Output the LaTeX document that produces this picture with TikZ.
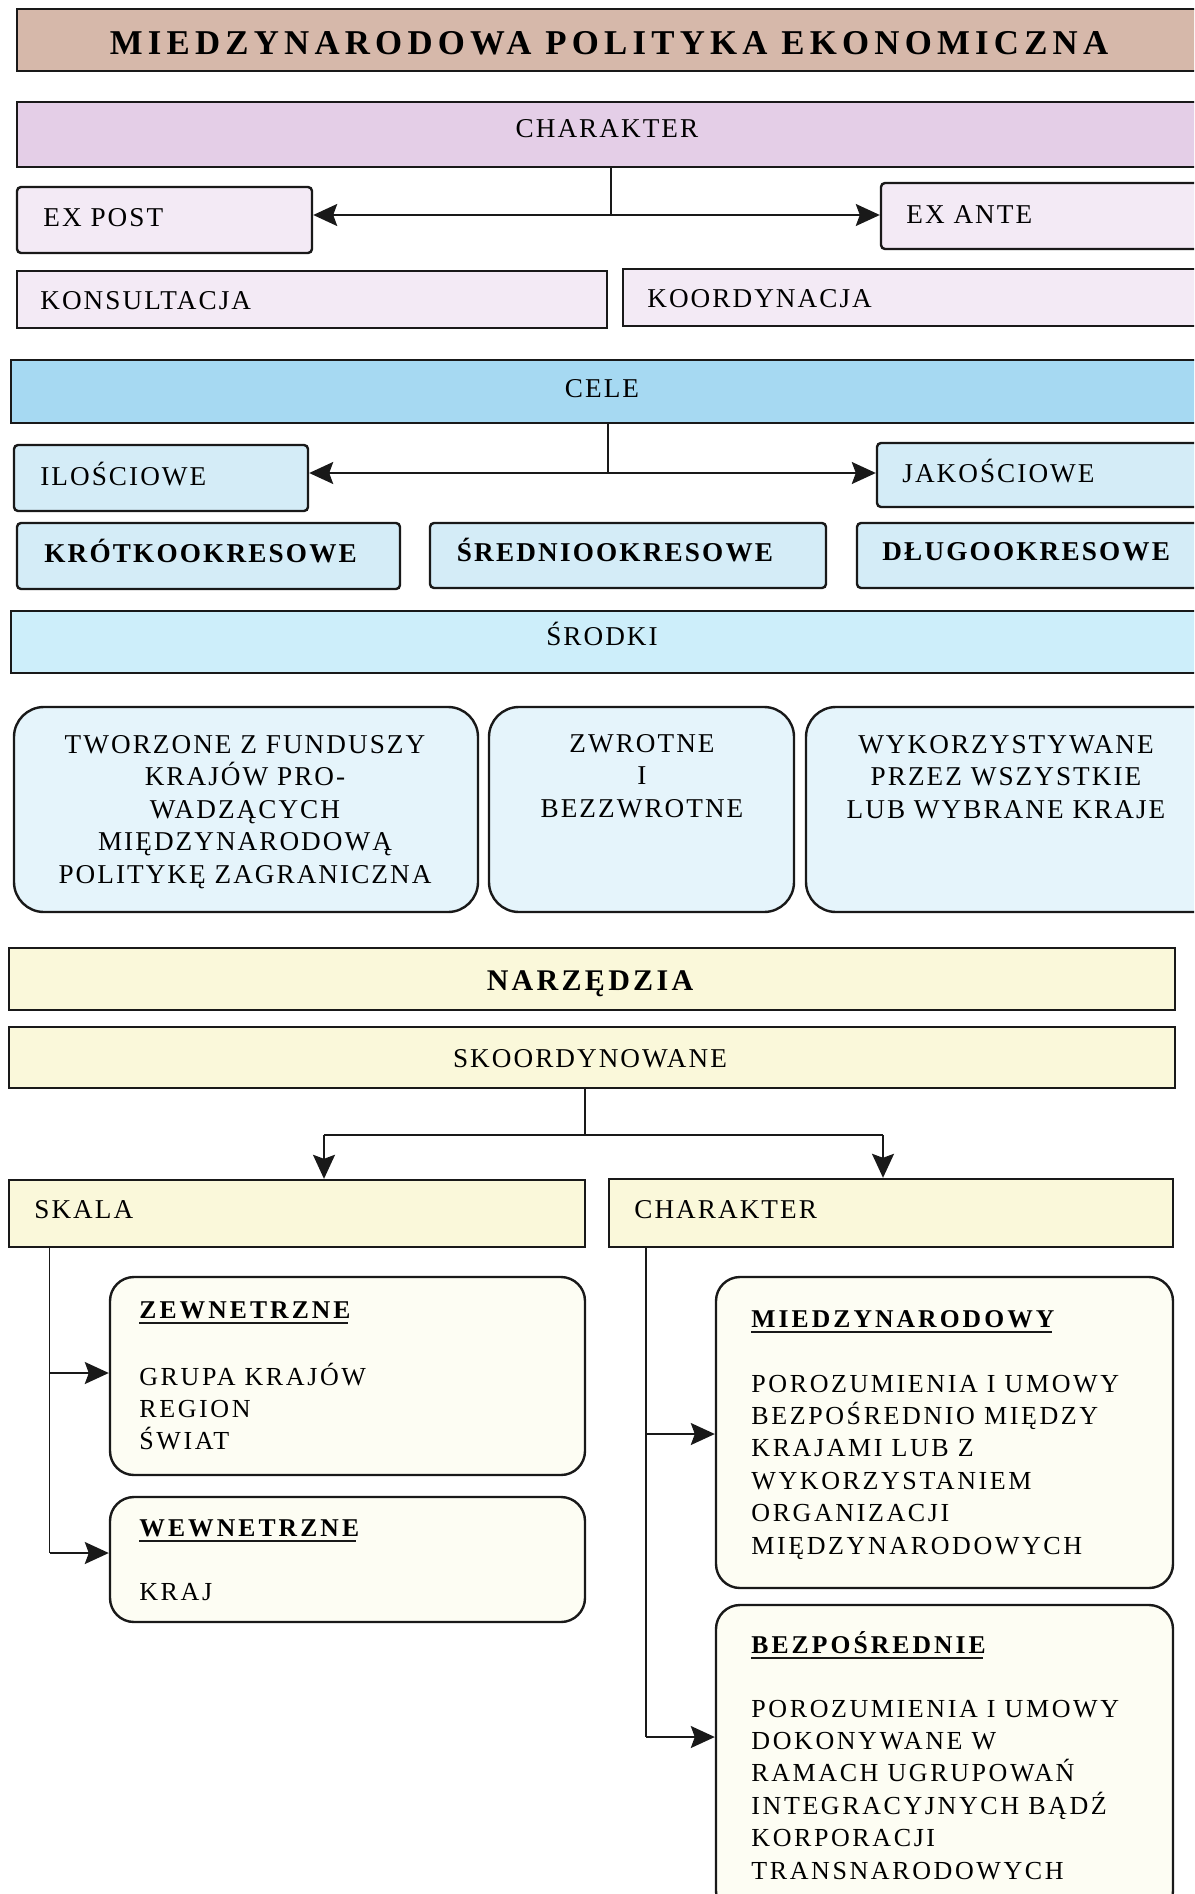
\documentclass[tikz,border=0pt]{standalone}
\usepackage{fontspec}
\setmainfont{Liberation Serif}
\newfontfamily\lsA[LetterSpace=7.5]{Liberation Serif}
\newfontfamily\lsB[LetterSpace=8]{Liberation Serif}
\newfontfamily\lsF[LetterSpace=10]{Liberation Serif}
\newfontfamily\lsC[LetterSpace=12]{Liberation Serif}
\newfontfamily\lsD[LetterSpace=15]{Liberation Serif}
\newfontfamily\lsE[LetterSpace=11]{Liberation Serif}
\newcommand\fUp{\lsA\fontsize{13.6pt}{16.25pt}\selectfont}
\newcommand\fLow{\lsF\fontsize{13pt}{16.2pt}\selectfont}
\newcommand\fBold{\lsB\bfseries\fontsize{13.6pt}{16.25pt}\selectfont}
\newcommand\fHead{\lsC\bfseries\fontsize{12.8pt}{16pt}\selectfont}
\newcommand\fTitle{\lsD\bfseries\fontsize{17.4pt}{20pt}\selectfont}
\newcommand\fNarz{\lsE\bfseries\fontsize{15pt}{18pt}\selectfont}
\usetikzlibrary{fit,arrows.meta}
\definecolor{cTitle}{RGB}{214,184,170}
\definecolor{cCharTop}{RGB}{228,206,231}
\definecolor{cCharSub}{RGB}{243,234,245}
\definecolor{cCele}{RGB}{166,217,242}
\definecolor{cCeleSub}{RGB}{212,236,247}
\definecolor{cSrodki}{RGB}{205,238,250}
\definecolor{cSrodSub}{RGB}{229,244,251}
\definecolor{cNarz}{RGB}{250,248,218}
\definecolor{cNarzSub}{RGB}{253,253,243}
\begin{document}
\begin{tikzpicture}[x=0.5pt,y=-0.5pt,
  box/.style={draw=black!90, line width=1.2pt, inner sep=0pt},
  rbox/.style={box, rounded corners=2pt},
  bigr/.style={box, rounded corners=15pt},
  midr/.style={box, rounded corners=12pt},
  tc/.style={inner sep=0pt, anchor=base},
  tl/.style={inner sep=0pt, anchor=base west},
  conn/.style={line width=0.9pt, draw=black!90},
  arr/.style={conn, -{Stealth[length=12pt,width=11pt,inset=2pt]}},
  uline/.style={line width=1pt, draw=black!90}]
\clip (0,0) rectangle (1194,1894);
\fill[white] (0,0) rectangle (1194,1894);

% ---------- title ----------
\node[box, fill=cTitle, fit={(17,9)(1215,71)}] (title) {};
\node[tc, font=\fTitle] (titleT) at (609,55) {MIEDZYNARODOWA POLITYKA EKONOMICZNA};

% ---------- charakter ----------
\node[box, fill=cCharTop, fit={(17,102)(1215,167)}] (charT) {};
\node[tc, font=\fUp] (charTT) at (607,138) {CHARAKTER};
\node[rbox, fill=cCharSub, fit={(17,187)(312,253)}] (expost) {};
\node[tl, font=\fUp] (expostT) at (43,227) {EX POST};
\node[rbox, fill=cCharSub, fit={(881,183)(1215,249)}] (exante) {};
\node[tl, font=\fUp] (exanteT) at (906,224) {EX ANTE};
\node[box, fill=cCharSub, fit={(17,271)(607,328)}] (kons) {};
\node[tl, font=\fUp] (konsT) at (40,309) {KONSULTACJA};
\node[box, fill=cCharSub, fit={(623,269)(1215,326)}] (koord) {};
\node[tl, font=\fUp] (koordT) at (647,307) {KOORDYNACJA};

\coordinate (j1) at (611,215);
\draw[conn] (charT.south -| j1) -- (j1);
\draw[arr] (j1) -- (j1 -| expost.east);
\draw[arr] (j1) -- (j1 -| exante.west);

% ---------- cele ----------
\node[box, fill=cCele, fit={(11,360)(1215,423)}] (cele) {};
\node[tc, font=\fUp] (celeT) at (602,397) {CELE};
\node[rbox, fill=cCeleSub, fit={(14,445)(308,511)}] (ilo) {};
\node[tl, font=\fUp] (iloT) at (40,485) {ILOŚCIOWE};
\node[rbox, fill=cCeleSub, fit={(877,443)(1215,507)}] (jak) {};
\node[tl, font=\fUp] (jakT) at (902,482) {JAKOŚCIOWE};
\node[rbox, fill=cCeleSub, fit={(17,523)(400,589)}] (krot) {};
\node[tl, font=\fBold] (krotT) at (44,562) {KRÓTKOOKRESOWE};
\node[rbox, fill=cCeleSub, fit={(430,523)(826,588)}] (sred) {};
\node[tc, font=\fBold] (sredT) at (615,561) {ŚREDNIOOKRESOWE};
\node[rbox, fill=cCeleSub, fit={(857,523)(1215,588)}] (dlug) {};
\node[tl, font=\fBold] (dlugT) at (882,560) {DŁUGOOKRESOWE};

\coordinate (j2) at (608,473);
\draw[conn] (cele.south -| j2) -- (j2);
\draw[arr] (j2) -- (j2 -| ilo.east);
\draw[arr] (j2) -- (j2 -| jak.west);

% ---------- srodki ----------
\node[box, fill=cSrodki, fit={(11,611)(1215,673)}] (srod) {};
\node[tc, font=\fUp] (srodT) at (602,645) {ŚRODKI};
\node[bigr, fill=cSrodSub, fit={(14,707)(478,912)}] (s1) {};
\node[tc, font=\fUp] (s1T) at (245,753) {\parbox[t]{225pt}{\centering TWORZONE Z FUNDUSZY\\ KRAJÓW PRO-\\ WADZĄCYCH\\ MIĘDZYNARODOWĄ\\ POLITYKĘ ZAGRANICZNA}};
\node[bigr, fill=cSrodSub, fit={(489,707)(794,912)}] (s2) {};
\node[tc, font=\fUp] (s2T) at (642,752) {\parbox[t]{140pt}{\centering ZWROTNE\\ I\\ BEZZWROTNE}};
\node[bigr, fill=cSrodSub, fit={(806,707)(1225,912)}] (s3) {};
\node[tc, font=\fUp] (s3T) at (1006,753) {\parbox[t]{195pt}{\centering WYKORZYSTYWANE\\ PRZEZ WSZYSTKIE\\ LUB WYBRANE KRAJE}};

% ---------- narzedzia ----------
\node[box, fill=cNarz, fit={(9,948)(1175,1010)}] (narz) {};
\node[tc, font=\fNarz] (narzT) at (590,990) {NARZĘDZIA};
\node[box, fill=cNarz, fit={(9,1027)(1175,1088)}] (skoord) {};
\node[tc, font=\fUp] (skoordT) at (590,1067) {SKOORDYNOWANE};
\node[box, fill=cNarz, fit={(9,1180)(585,1247)}] (skala) {};
\node[tl, font=\fUp] (skalaT) at (34,1218) {SKALA};
\node[box, fill=cNarz, fit={(609,1179)(1173,1247)}] (char2) {};
\node[tl, font=\fUp] (char2T) at (634,1218) {CHARAKTER};

\coordinate (j3) at (585,1135);
\coordinate (j3l) at (324,1135);
\coordinate (j3r) at (883,1135);
\draw[conn] (skoord.south -| j3) -- (j3);
\draw[conn] (j3l) -- (j3r);
\draw[arr] (j3l) -- (j3l |- skala.north);
\draw[arr] (j3r) -- (j3r |- char2.north);

% skala branch
\node[midr, fill=cNarzSub, fit={(110,1277)(585,1475)}] (zew) {};
\node[tl, font=\fHead] (zewH) at (139,1318) {ZEWNETRZNE};
\draw[uline] ([yshift=-2.6pt]zewH.base west) -- ([yshift=-2.6pt,xshift=-1.5pt]zewH.base east);
\node[tl, font=\fLow] (zewT) at (139,1385) {\parbox[t]{200pt}{\raggedright GRUPA KRAJÓW\\ REGION\\ ŚWIAT}};
\node[midr, fill=cNarzSub, fit={(110,1497)(585,1622)}] (wew) {};
\node[tl, font=\fHead] (wewH) at (139,1536) {WEWNETRZNE};
\draw[uline] ([yshift=-2.6pt]wewH.base west) -- ([yshift=-2.6pt,xshift=-1.5pt]wewH.base east);
\node[tl, font=\fLow] (wewT) at (139,1600) {KRAJ};

\coordinate (a1) at (49.5,1373);
\coordinate (a2) at (49.5,1553);
\draw[conn] (skala.south -| a1) -- (a2);
\draw[arr] (a1) -- (a1 -| zew.west);
\draw[arr] (a2) -- (a2 -| wew.west);

% charakter branch
\node[midr, fill=cNarzSub, fit={(716,1277)(1173,1588)}] (miedz) {};
\node[tl, font=\fHead] (miedzH) at (751,1327) {MIEDZYNARODOWY};
\draw[uline] ([yshift=-2.6pt]miedzH.base west) -- ([yshift=-2.6pt,xshift=-1.5pt]miedzH.base east);
\node[tl, font=\fLow] (miedzT) at (751,1392) {\parbox[t]{225pt}{\raggedright POROZUMIENIA I UMOWY\\ BEZPOŚREDNIO MIĘDZY\\ KRAJAMI LUB Z\\ WYKORZYSTANIEM\\ ORGANIZACJI\\ MIĘDZYNARODOWYCH}};
\node[midr, fill=cNarzSub, fit={(716,1605)(1173,1915)}] (bezp) {};
\node[tl, font=\fHead] (bezpH) at (751,1653) {BEZPOŚREDNIE};
\draw[uline] ([yshift=-2.6pt]bezpH.base west) -- ([yshift=-2.6pt,xshift=-1.5pt]bezpH.base east);
\node[tl, font=\fLow] (bezpT) at (751,1717) {\parbox[t]{225pt}{\raggedright POROZUMIENIA I UMOWY\\ DOKONYWANE W\\ RAMACH UGRUPOWAŃ\\ INTEGRACYJNYCH BĄDŹ\\ KORPORACJI\\ TRANSNARODOWYCH}};

\coordinate (b1) at (646,1434);
\coordinate (b2) at (646,1737);
\draw[conn] (char2.south -| b1) -- (b2);
\draw[arr] (b1) -- (b1 -| miedz.west);
\draw[arr] (b2) -- (b2 -| bezp.west);
\end{tikzpicture}
\end{document}
